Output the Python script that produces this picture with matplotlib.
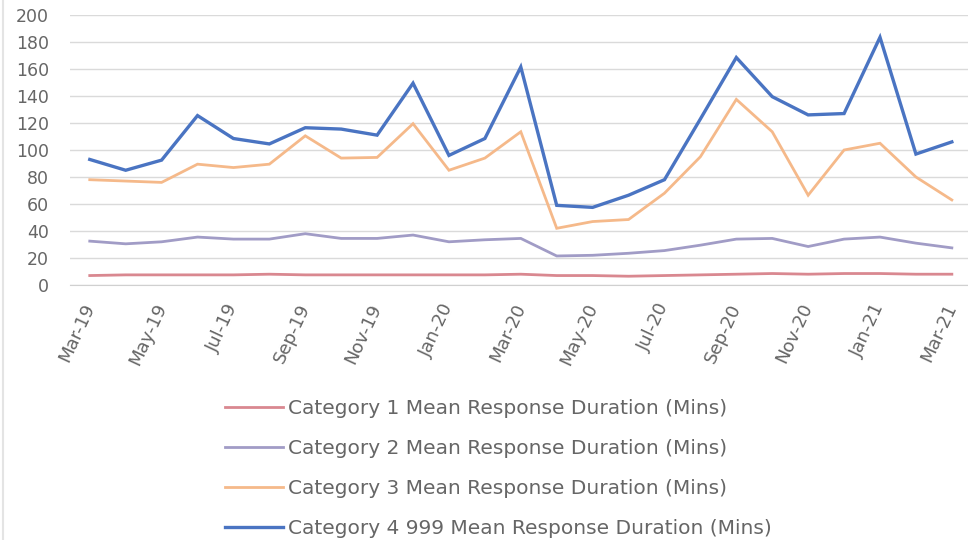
import numpy as np
import matplotlib
matplotlib.use("Agg")
import matplotlib.pyplot as plt

months = ["Mar-19", "Apr-19", "May-19", "Jun-19", "Jul-19", "Aug-19", "Sep-19",
          "Oct-19", "Nov-19", "Dec-19", "Jan-20", "Feb-20", "Mar-20", "Apr-20",
          "May-20", "Jun-20", "Jul-20", "Aug-20", "Sep-20", "Oct-20", "Nov-20",
          "Dec-20", "Jan-21", "Feb-21", "Mar-21"]

cat1 = [7, 7.5, 7.5, 7.5, 7.5, 8, 7.5, 7.5, 7.5, 7.5, 7.5, 7.5, 8,
        7, 7, 6.5, 7, 7.5, 8, 8.5, 8, 8.5, 8.5, 8, 8]
cat2 = [32.5, 30.5, 32, 35.5, 34, 34, 38, 34.5, 34.5, 37, 32, 33.5, 34.5,
        21.5, 22, 23.5, 25.5, 29.5, 34, 34.5, 28.5, 34, 35.5, 31, 27.5]
cat3 = [78, 77, 76, 89.5, 87, 89.5, 110.5, 94, 94.5, 119.5, 85, 94, 113.5,
        42, 47, 48.5, 68, 95, 137.5, 113.5, 66.5, 100, 105, 80, 63]
cat4 = [93, 85, 92.5, 125.5, 108.5, 104.5, 116.5, 115.5, 111, 149.5, 96, 108.5, 161.5,
        59, 57.5, 66.5, 78, 123, 168.5, 139.5, 126, 127, 183.5, 97, 106]

labels = ["Category 1 Mean Response Duration (Mins)",
          "Category 2 Mean Response Duration (Mins)",
          "Category 3 Mean Response Duration (Mins)",
          "Category 4 999 Mean Response Duration (Mins)"]
colors = ["#D98890", "#A19CC6", "#F5B98A", "#4A74C2"]
widths = [2.0, 2.0, 2.0, 2.4]

text_col = "#666666"

fig = plt.figure(figsize=(9.68, 5.4), dpi=100)
ax = fig.add_axes([70 / 968, 1 - 285 / 540, 898 / 968, 270 / 540])

x = np.arange(len(months))
for ys, lab, c, w in zip([cat1, cat2, cat3, cat4], labels, colors, widths):
    ax.plot(x, ys, color=c, lw=w, label=lab, solid_joinstyle="miter")

ax.set_xlim(-0.55, len(months) - 0.55)
ax.set_ylim(0, 200)
ax.set_yticks(np.arange(0, 201, 20))
ax.set_xticks(x[::2])
ax.set_xticklabels(months[::2], rotation=65, ha="right", va="center",
                   rotation_mode="anchor")

ax.grid(axis="y", color="#DADADA", lw=1)
ax.set_axisbelow(True)
for s in ["top", "right", "left"]:
    ax.spines[s].set_visible(False)
ax.spines["bottom"].set_color("#D0D0D0")
ax.tick_params(axis="y", length=0, pad=15, labelsize=12.5, labelcolor=text_col)
ax.tick_params(axis="x", length=0, pad=14, labelsize=13, labelcolor=text_col)

ax.legend(loc="upper left", bbox_to_anchor=(225 / 968, 1 - 399 / 540),
          bbox_transform=fig.transFigure, frameon=False, fontsize=14.5,
          labelcolor=text_col, handlelength=2.9, handletextpad=0.25,
          labelspacing=1.05, borderpad=0, borderaxespad=0)

# faint page edge on the left
fig.add_artist(plt.Line2D([0.003, 0.003], [0, 1], color="#E4E4E4", lw=1.5))

fig.savefig("out.png", dpi=100)
